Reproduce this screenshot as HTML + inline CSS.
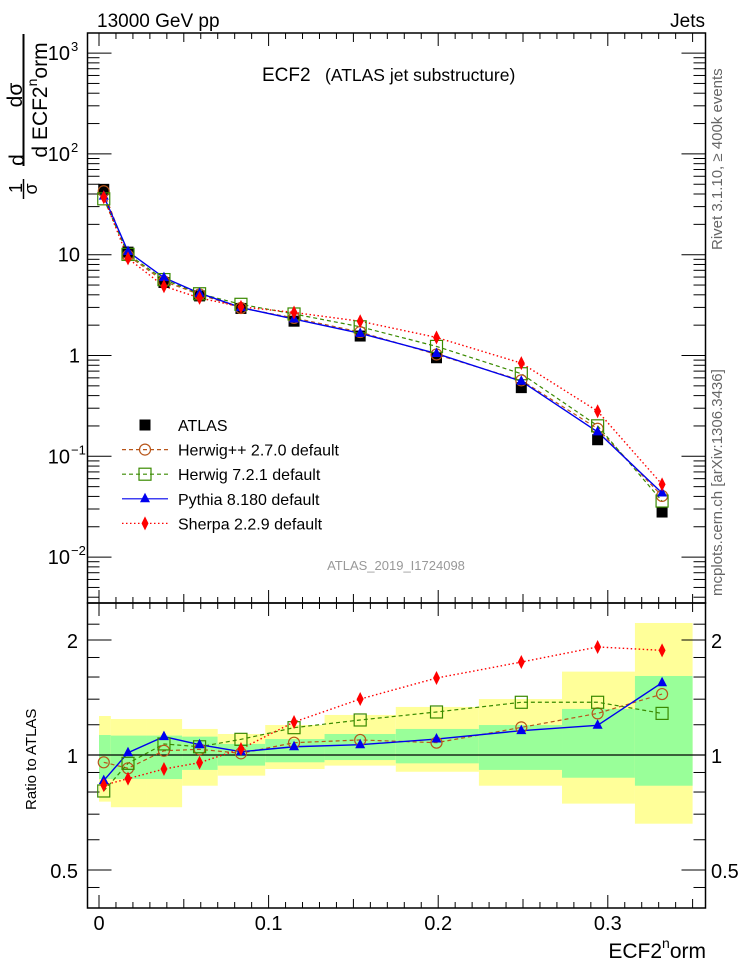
<!DOCTYPE html>
<html><head><meta charset="utf-8"><style>
html,body{margin:0;padding:0;background:#fff;}
svg{display:block;font-family:"Liberation Sans",sans-serif;}
</style></head><body>
<svg id="c" width="746" height="972" viewBox="0 0 746 972"></svg>
<script>
const xVals=[0.0028,0.0171,0.0383,0.0593,0.0837,0.115,0.154,0.199,0.249,0.294,0.332];
const binEdges=[0,0.007,0.028,0.049,0.07,0.098,0.133,0.175,0.224,0.273,0.316,0.35];
const atlasVals=[44.5,10.6,5.3,3.9,2.93,2.19,1.56,0.95,0.48,0.146,0.028];
const yellowHi=[1.265,1.242,1.242,1.170,1.135,1.198,1.273,1.336,1.401,1.653,2.216];
const yellowLo=[0.755,0.730,0.730,0.831,0.883,0.919,0.938,0.904,0.831,0.746,0.661];
const greenHi=[1.128,1.124,1.124,1.117,1.069,1.101,1.135,1.170,1.198,1.320,1.610];
const greenLo=[0.865,0.865,0.865,0.914,0.938,0.957,0.970,0.951,0.914,0.872,0.831];
const herwigppRatio=[0.957,0.923,1.026,1.035,1.010,1.077,1.095,1.077,1.181,1.285,1.444];
const herwig7Ratio=[0.805,0.951,1.069,1.051,1.099,1.179,1.235,1.296,1.374,1.374,1.285];
const pythiaRatio=[0.857,1.014,1.117,1.064,1.020,1.051,1.064,1.101,1.158,1.196,1.546];
const sherpaRatio=[0.834,0.867,0.919,0.955,1.037,1.220,1.401,1.590,1.751,1.918,1.879];
const xTicks=[0,0.1,0.2,0.3];
const xTickLabels=["0","0.1","0.2","0.3"];
const ratioTicks=[0.5,1,2];
const ratioTickLabels=["0.5","1","2"];

const NS="http://www.w3.org/2000/svg";
const svg=document.getElementById('c');
function mk(tag,attrs,parent){const e=document.createElementNS(NS,tag);for(const k in attrs)e.setAttribute(k,attrs[k]);(parent||svg).appendChild(e);return e;}
const L=87.5,R=705.5,T=33,MB=603,RB=908;
const xs=v=>99+v*1696;
const ym=v=>355.5-100.8*Math.log10(v);
const yr=r=>755-115*Math.log2(r);

for(let i=0;i<yellowHi.length;i++){
  const x0=xs(binEdges[i]),x1=xs(binEdges[i+1]);
  const y=mk('rect',{x:x0,y:yr(yellowHi[i]),width:x1-x0,height:yr(yellowLo[i])-yr(yellowHi[i]),fill:'#ffff99'});
  
  
  const g=mk('rect',{x:x0,y:yr(greenHi[i]),width:x1-x0,height:yr(greenLo[i])-yr(greenHi[i]),fill:'#99ff99'});
  
  
}
mk('line',{x1:L,x2:R,y1:yr(1),y2:yr(1),stroke:'#000','stroke-width':1.2});

const f1=mk('rect',{x:L,y:T,width:R-L,height:MB-T,fill:'none',stroke:'#000','stroke-width':1.5});

const f2=mk('rect',{x:L,y:MB,width:R-L,height:RB-MB,fill:'none',stroke:'#000','stroke-width':1.5});


for(let k=0;k<=35;k++){
  const v=k/100,x=xs(v);const major=k%10==0;const mid=k%5==0;
  const len=major?13:(mid?9:6);
  [[T,1],[MB,-1],[MB,1],[RB,-1]].forEach(([yy,d])=>mk('line',{x1:x,x2:x,y1:yy,y2:yy+d*len,stroke:'#000','stroke-width':1}));
}
xTicks.forEach((v,i)=>{const t=mk('text',{x:xs(v),y:930,'font-size':20,'text-anchor':'middle'});t.textContent=xTickLabels[i];
 });

for(let e=-3;e<=3;e++){for(let m=1;m<10;m++){const v=m*Math.pow(10,e);const y=ym(v);if(y<T||y>MB)continue;
  const len=m==1?24:12;
  mk('line',{x1:L,x2:L+len,y1:y,y2:y,stroke:'#000','stroke-width':1});
  mk('line',{x1:R,x2:R-len,y1:y,y2:y,stroke:'#000','stroke-width':1});}}
const yLab=[[1000,'10','3'],[100,'10','2'],[10,'10',''],[1,'1',''],[0.1,'10','−1'],[0.01,'10','−2']];
yLab.forEach(([v,b,s])=>{const t=mk('text',{x:s?70:80,y:ym(v)+7,'font-size':20,'text-anchor':'end'});t.textContent=b;
 
 if(s){const u=mk('text',{x:71,y:ym(v)-2,'font-size':13});u.textContent=s;}});

[0.45,0.5,0.6,0.7,0.8,0.9,1,1.2,1.4,1.6,1.8,2,2.2].forEach(r=>{const y=yr(r);if(y<MB||y>RB)return;const len=(r==0.5||r==1||r==2)?24:12;
  mk('line',{x1:L,x2:L+len,y1:y,y2:y,stroke:'#000','stroke-width':1});mk('line',{x1:R,x2:R-len,y1:y,y2:y,stroke:'#000','stroke-width':1});});
ratioTicks.forEach((r,i)=>{const t=mk('text',{x:78,y:yr(r)+8,'font-size':20,'text-anchor':'end'});t.textContent=ratioTickLabels[i];
 
 const t2=mk('text',{x:711,y:yr(r)+8,'font-size':20});t2.textContent=ratioTickLabels[i];
 });

function marker(kind,x,y,col){
  if(kind=='sq')return mk('rect',{x:x-5.5,y:y-5.5,width:11,height:11,fill:'#000'});
  if(kind=='circ')return mk('circle',{cx:x,cy:y,r:5.5,fill:'none',stroke:col,'stroke-width':1.2});
  if(kind=='osq')return mk('rect',{x:x-6,y:y-6,width:12,height:12,fill:'none',stroke:col,'stroke-width':1.2});
  if(kind=='tri')return mk('polygon',{points:`${x},${y-6} ${x-5},${y+3.5} ${x+5},${y+3.5}`,fill:col});
  if(kind=='dia')return mk('polygon',{points:`${x},${y-7} ${x-3.5},${y} ${x},${y+7} ${x+3.5},${y}`,fill:col});
}
const series=[
 {name:'herwigpp',r:herwigppRatio,col:'#b8561a',dash:'4,3',kind:'circ',w:1.2},
 {name:'herwig7',r:herwig7Ratio,col:'#3a8a00',dash:'4,3',kind:'osq',w:1.2},
 {name:'pythia',r:pythiaRatio,col:'#0000ee',dash:'',kind:'tri',w:1.4},
 {name:'sherpa',r:sherpaRatio,col:'#ff0000',dash:'1.5,2.5',kind:'dia',w:1.4}];
series.forEach(s=>{
  const ptsM=xVals.map((x,i)=>`${xs(x)},${ym(atlasVals[i]*s.r[i])}`).join(' ');
  const pl=mk('polyline',{points:ptsM,fill:'none',stroke:s.col,'stroke-width':s.w,'stroke-dasharray':s.dash});
  
  const ptsR=xVals.map((x,i)=>`${xs(x)},${yr(s.r[i])}`).join(' ');
  const pr=mk('polyline',{points:ptsR,fill:'none',stroke:s.col,'stroke-width':s.w,'stroke-dasharray':s.dash});
  
});
xVals.forEach((x,i)=>{const m=marker('sq',xs(x),ym(atlasVals[i]));
 });
series.forEach(s=>{xVals.forEach((x,i)=>{
  const m=marker(s.kind,xs(x),ym(atlasVals[i]*s.r[i]),s.col);
  
  const m2=marker(s.kind,xs(x),yr(s.r[i]),s.col);
  
});});

function txt(x,y,s,size,attrs,name){const t=mk('text',Object.assign({x:x,y:y,'font-size':size},attrs||{}));t.textContent=s;
 return t;}
txt(97,27,'13000 GeV pp',19,{},'energy-label');
txt(705,27,'Jets',19,{'text-anchor':'end'},'process-label');
txt(262,81,'ECF2',19,{},'plot-title');
txt(325,81,'(ATLAS jet substructure)',17.5,{},'plot-subtitle');
txt(396,570,'ATLAS_2019_I1724098',13,{'text-anchor':'middle',fill:'#999'},'analysis-id');
const xt=mk('text',{x:706,y:958,'font-size':21,'text-anchor':'end'});

xt.innerHTML='ECF2<tspan font-size="14" dy="-10">n</tspan><tspan dy="10">orm</tspan>';
txt(0,0,'Rivet 3.1.10, ≥ 400k events',15,{transform:'translate(722,250) rotate(-90)',fill:'#666'},'rivet-version');
txt(0,0,'mcplots.cern.ch [arXiv:1306.3436]',15,{transform:'translate(722,596) rotate(-90)',fill:'#666'},'mcplots-credit');
txt(0,0,'Ratio to ATLAS',15,{transform:'translate(36,810) rotate(-90)'},'ratio-y-axis-title');

const yg=mk('g',{});
function rt(x,y,s,size){const t=mk('text',{transform:`translate(${x},${y}) rotate(-90)`,'font-size':size,'text-anchor':'middle'},yg);t.textContent=s;return t;}
rt(22,95,'dσ',21);
mk('line',{x1:23.5,x2:23.5,y1:34,y2:166,stroke:'#000','stroke-width':2},yg);
rt(24,160,'d',21);
const den=mk('text',{transform:'translate(47,100) rotate(-90)','font-size':21,'text-anchor':'middle'},yg);
den.innerHTML='d ECF2<tspan font-size="14" dy="-10">n</tspan><tspan dy="10">orm</tspan>';
rt(22,188,'1',18);
mk('line',{x1:23.5,x2:23.5,y1:179,y2:199,stroke:'#000','stroke-width':1.5},yg);
rt(37,189,'σ',18);

const leg=[['ATLAS','sq','#000',''],['Herwig++ 2.7.0 default','circ','#b8561a','4,3'],['Herwig 7.2.1 default','osq','#3a8a00','4,3'],
 ['Pythia 8.180 default','tri','#0000ee',''],['Sherpa 2.2.9 default','dia','#ff0000','1.5,2.5']];
leg.forEach((l,i)=>{const y=425+i*24.6;
 if(i>0){const ln=mk('line',{x1:122,x2:168,y1:y,y2:y,stroke:l[2],'stroke-width':1.2,'stroke-dasharray':l[3]});
  }
 const m=marker(l[1],145,y,l[2]);
 txt(178,y+6,l[0],16,{},'legend-entry');});
</script>
</body></html>
